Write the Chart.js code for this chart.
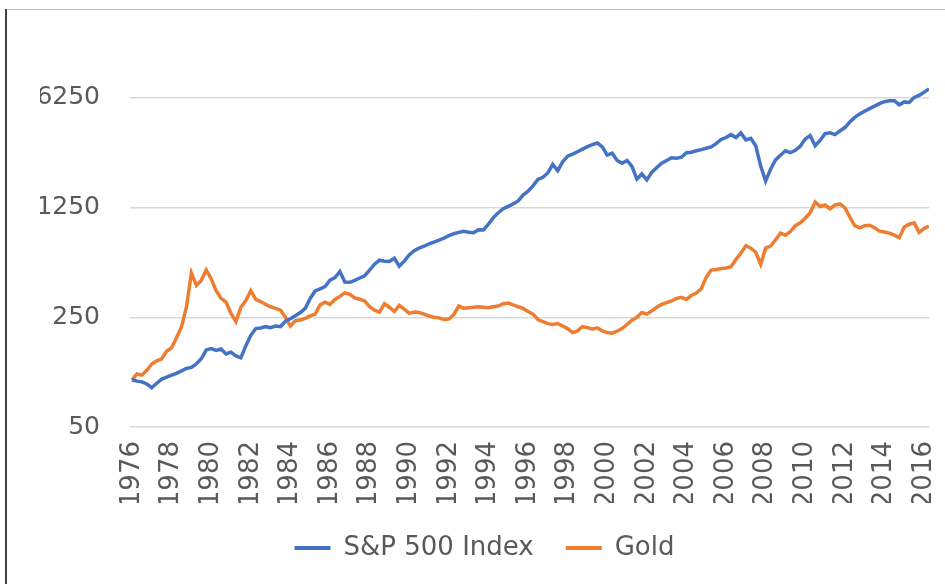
<!DOCTYPE html>
<html lang="en">
  <head>
    <meta charset="UTF-8" />
    <title>S&amp;P 500 vs Gold</title>
    <script src="https://cdn.jsdelivr.net/npm/chart.js"></script>
    <style>
      html,
      body {
        margin: 0;
        padding: 0;
        background: #ffffff;
      }

      #wrap {
        position: relative;
        width: 945px;
        height: 584px;
      }
    </style>
  </head>
  <body>
    <div id="wrap">
      <canvas id="chart" width="945" height="584"></canvas>
    </div>

    <script>
      // quarterly values, both series indexed to 100 at the start
      const startYear = 1976;
      const stepYears = 0.25;

      const sp500 = [
        100, 98, 97, 94, 89, 95, 101, 104, 107, 110, 114, 118, 120, 126, 136, 155,
        158, 154, 157, 146, 150, 142, 138, 165, 192, 212, 214, 218, 215, 220, 218, 236,
        245, 256, 268, 285, 330, 368, 380, 392, 432, 448, 490, 420, 418, 430, 445, 460,
        500, 545, 578, 570, 568, 595, 530, 570, 625, 665, 690, 710, 735, 755, 775, 800,
        830, 852, 870, 885, 872, 865, 905, 900, 980, 1080, 1160, 1230, 1275, 1320, 1380, 1505,
        1590, 1720, 1890, 1950, 2080, 2360, 2150, 2450, 2660, 2740, 2840, 2950, 3060, 3150, 3230, 3050,
        2700, 2780, 2500, 2400, 2500, 2290, 1900, 2050, 1880, 2100, 2250, 2400, 2500, 2600, 2580, 2620,
        2800, 2820, 2880, 2930, 2990, 3050, 3200, 3400, 3500, 3650, 3500, 3740, 3380, 3460, 3100, 2300,
        1850, 2200, 2520, 2700, 2880, 2800, 2900, 3080, 3420, 3600, 3100, 3350, 3700, 3750, 3650, 3850,
        4050, 4390, 4700, 4950, 5150, 5350, 5550, 5750, 5920, 6000, 6000, 5650, 5900, 5850, 6300, 6500,
        6800, 7150,
      ];

      const gold = [
        100, 109, 107, 115, 126, 132, 136, 152, 160, 185, 217, 290, 480, 400, 430, 500,
        440, 370, 330, 312, 265, 235, 290, 320, 370, 325, 315, 302, 292, 285, 278, 250,
        220, 238, 240, 246, 255, 262, 300, 312, 302, 325, 340, 358, 350, 332, 326, 318,
        292, 278, 270, 305, 290, 272, 298, 282, 265, 270, 268, 262, 255, 250, 248, 242,
        244, 260, 295, 286, 288, 290, 292, 290, 288, 292, 295, 305, 308, 300, 292, 285,
        272, 262, 242, 235, 228, 225, 228, 220, 212, 200, 205, 218, 215, 210, 214, 205,
        200, 198, 204, 212, 225, 240, 250, 268, 262, 275, 290, 302, 310, 318, 330, 335,
        325, 345, 357, 380, 450, 500, 505, 512, 515, 525, 585, 640, 715, 690, 650, 545,
        690, 712, 780, 860, 835, 880, 960, 1000, 1070, 1160, 1360, 1270, 1300, 1230, 1300, 1320,
        1250, 1090, 960, 930, 960, 965, 930, 885, 875, 860, 835, 805, 940, 980, 1000, 870,
        920, 955,
      ];

      const tickYears = [
        1976, 1978, 1980, 1982, 1984, 1986, 1988, 1990, 1992, 1994, 1996,
        1998, 2000, 2002, 2004, 2006, 2008, 2010, 2012, 2014, 2016,
      ];
      const yTicks = [50, 250, 1250, 6250];

      const toPoints = (values) =>
        values.map((v, i) => ({ x: startYear + i * stepYears, y: v }));

      const textColor = "#595959";
      const font = "'DejaVu Sans', sans-serif";

      // thin frame of the original chart box (cropped on right and bottom)
      const framePlugin = {
        id: "frame",
        beforeDraw(chart) {
          const c = chart.ctx;
          c.save();
          c.strokeStyle = "#bfbfbf";
          c.lineWidth = 1;
          c.beginPath();
          c.moveTo(6, 9.5);
          c.lineTo(945, 9.5);
          c.stroke();
          c.strokeStyle = "#404040";
          c.lineWidth = 2;
          c.beginPath();
          c.moveTo(6, 9);
          c.lineTo(6, 584);
          c.stroke();
          c.restore();
        },
      };

      const ctx = document.getElementById("chart").getContext("2d");

      const chart = new Chart(ctx, {
        type: "line",
        data: {
          datasets: [
            {
              label: "S&P 500 Index",
              data: toPoints(sp500),
              borderColor: "#4472C4",
              backgroundColor: "#4472C4",
              borderWidth: 3.5,
              pointRadius: 0,
              tension: 0,
            },
            {
              label: "Gold",
              data: toPoints(gold),
              borderColor: "#ED7D31",
              backgroundColor: "#ED7D31",
              borderWidth: 3.5,
              pointRadius: 0,
              tension: 0,
            },
          ],
        },
        options: {
          responsive: false,
          animation: false,
          layout: {
            padding: { left: 40, right: 16, top: 54, bottom: 13 },
          },
          plugins: {
            tooltip: { enabled: false },
            legend: {
              position: "bottom",
              labels: {
                boxWidth: 36,
                boxHeight: 4,
                padding: 32,
                color: textColor,
                font: { family: font, size: 26 },
                generateLabels(chart) {
                  const items =
                    Chart.defaults.plugins.legend.labels.generateLabels(chart);
                  items.forEach((item) => {
                    item.lineWidth = 0;
                  });
                  return items;
                },
              },
            },
          },
          scales: {
            x: {
              type: "linear",
              min: 1975.9,
              max: 2016.25,
              grid: { display: false, drawTicks: false },
              border: { display: false },
              afterBuildTicks(scale) {
                scale.ticks = tickYears.map((v) => ({ value: v }));
              },
              afterFit(scale) {
                scale.height = 76;
                scale.paddingRight = 0;
                scale.paddingLeft = 0;
              },
              ticks: {
                autoSkip: false,
                minRotation: 90,
                maxRotation: 90,
                padding: 14,
                color: textColor,
                font: { family: font, size: 26 },
                callback: (v) => String(v),
              },
            },
            y: {
              type: "logarithmic",
              min: 50,
              max: 11920,
              grid: { color: "#d9d9d9", lineWidth: 1.5, drawTicks: false },
              border: { display: false },
              afterBuildTicks(scale) {
                scale.ticks = yTicks.map((v) => ({ value: v }));
              },
              afterFit(scale) {
                scale.width = 90;
              },
              ticks: {
                padding: 30,
                color: textColor,
                font: { family: font, size: 25 },
                callback: (v) => String(v),
              },
            },
          },
        },
        plugins: [framePlugin],
      });
    </script>
  </body>
</html>
